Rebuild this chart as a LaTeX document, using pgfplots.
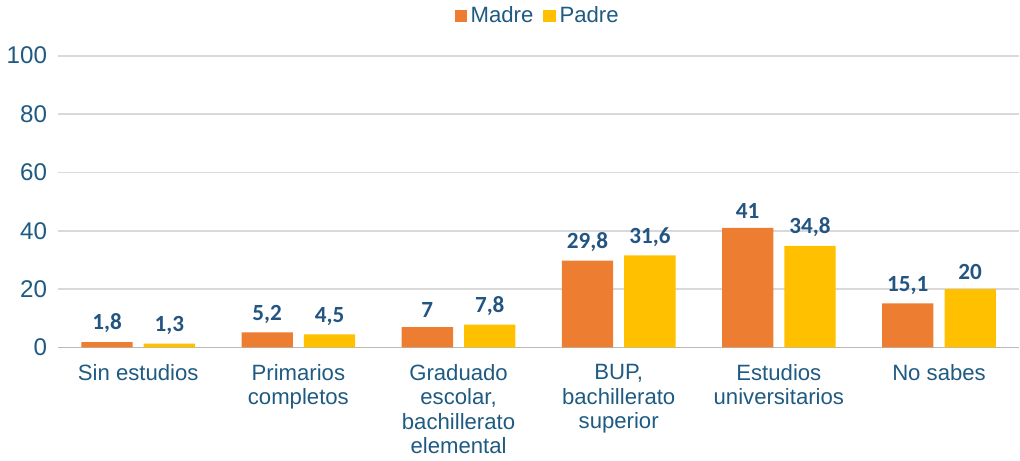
\documentclass[border=0pt]{standalone}
\usepackage{pgfplots}
\pgfplotsset{compat=1.18}
\usepackage{fontspec}
\setmainfont{Liberation Sans}
\newfontfamily\carlito{Carlito}
\definecolor{madre}{HTML}{ED7D31}
\definecolor{padre}{HTML}{FFC000}
\definecolor{txt}{RGB}{30,90,130}
\definecolor{lbl}{RGB}{35,85,130}
\definecolor{gridc}{HTML}{D9D9D9}
\begin{document}
\begin{tikzpicture}
\begin{axis}[
  scale only axis,
  width=477.5pt, height=145pt,
  xmin=-0.5, xmax=5.5,
  ymin=0, ymax=100,
  ytick={0,20,40,60,80,100},
  xtick={0,1,2,3,4,5},
  xticklabels={Sin estudios, {Primarios\\completos}, {Graduado\\escolar,\\bachillerato\\elemental}, {BUP,\\bachillerato\\superior}, {Estudios\\universitarios}, No sabes},
  xticklabel style={align=center, font=\fontsize{11}{12}\selectfont, text=txt, yshift=-5pt},
  yticklabel style={font=\fontsize{12}{13}\selectfont, text=txt, xshift=-2pt},
  /pgf/number format/assume math mode=true,
  axis line style={draw=none},
  major tick length=0pt,
  ymajorgrids,
  grid style={gridc, line width=0.9pt},
  extra y ticks={0},
  extra y tick labels={},
  extra y tick style={grid style={gray!55, line width=0.9pt}},
  ybar,
  bar width=25.5pt,
  nodes near coords,
  nodes near coords style={font=\carlito\bfseries\fontsize{11.5}{13}\selectfont, text=lbl, yshift=1pt, /pgf/number format/use comma},
  legend style={at={(0.5,1)}, anchor=south, yshift=12pt, draw=none, font=\fontsize{11}{12}\selectfont, text=txt, legend columns=2, /tikz/every even column/.append style={column sep=3pt}, inner sep=1pt},
  legend image code/.code={\fill[#1] (5pt,-3pt) rectangle (11pt,3pt);},
  clip=false,
]
\addplot[fill=madre, draw=none, bar shift=-15.5pt] coordinates {(0,1.8) (1,5.2) (2,7) (3,29.8) (4,41) (5,15.1)};
\addplot[fill=padre, draw=none, bar shift=15.5pt] coordinates {(0,1.3) (1,4.5) (2,7.8) (3,31.6) (4,34.8) (5,20)};
\legend{Madre, Padre}
\end{axis}
\end{tikzpicture}
\end{document}
